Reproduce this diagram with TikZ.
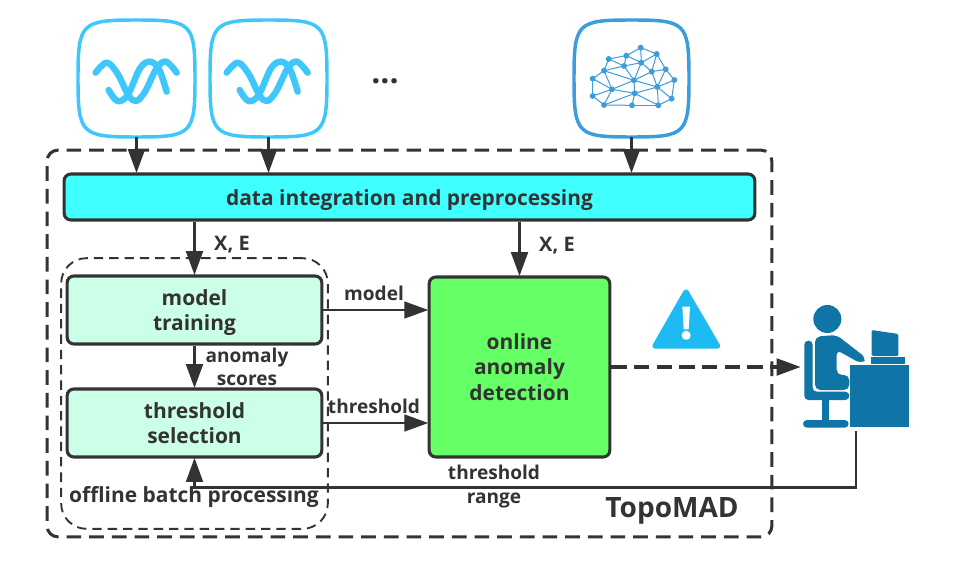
\documentclass[tikz,border=0pt]{standalone}
\usepackage{fontspec}
\setmainfont{Open Sans}
\usetikzlibrary{arrows.meta,calc}
\definecolor{ink}{HTML}{333333}
\definecolor{wave}{HTML}{3FC6FB}
\definecolor{net}{HTML}{3D9DDB}
\definecolor{prepfill}{HTML}{40FFFF}
\definecolor{mintfill}{HTML}{CCFFE8}
\definecolor{greenfill}{HTML}{66FF66}
\definecolor{warnblue}{HTML}{1DBBF2}
\definecolor{personblue}{HTML}{0F74A6}
\tikzset{
  x=0.75pt,y=-0.75pt,
  txt/.style={font=\bfseries\fontsize{15.7}{18.9}\selectfont,text=ink,align=center,inner sep=0pt},
  lbl/.style={font=\bfseries\fontsize{14.3}{17}\selectfont,text=ink,align=center,inner sep=0pt},
  procbox/.style={draw=ink,line width=2.3pt,rounded corners=5pt,inner sep=0pt},
  ghost/.style={inner sep=0pt,outer sep=0pt,minimum width=#1},
  flow/.style={draw=ink,line width=2.3pt,-{Triangle[length=18pt,width=12.5pt]},shorten >=-0.5pt},
  dashflow/.style={flow,line width=2.3pt,dash pattern=on 11.5pt off 5.5pt},
  strand/.style={draw=wave,line width=4.8pt,line cap=round,line join=round},
  frame/.style={line width=2.6pt,fill=white},
}
\newcommand{\squircle}[2]{%
  \draw[frame,draw=#2] (#1.north)
    .. controls ($(#1.north)!0.95!(#1.north east)$) and ($(#1.east)!0.95!(#1.north east)$) .. (#1.east)
    .. controls ($(#1.east)!0.95!(#1.south east)$) and ($(#1.south)!0.95!(#1.south east)$) .. (#1.south)
    .. controls ($(#1.south)!0.95!(#1.south west)$) and ($(#1.west)!0.95!(#1.south west)$) .. (#1.west)
    .. controls ($(#1.west)!0.95!(#1.north west)$) and ($(#1.north)!0.95!(#1.north west)$) .. (#1.north) -- cycle;}
\newcommand{\waveicon}[2]{%
  \begin{scope}[shift={(#1,#2)},x=0.25pt,y=-0.25pt]
    \draw[strand] plot[smooth,tension=0.6] coordinates {(107,188) (140,158) (172,190) (205,255) (228,273) (255,245) (290,175) (318,155) (350,188)};
    \draw[strand] plot[smooth,tension=0.6] coordinates {(146,240) (172,273) (203,255) (240,175) (270,155) (297,178) (320,245)};
  \end{scope}}
\begin{document}
\begin{tikzpicture}
\useasboundingbox (0,0) rectangle (956,577);
% source icons
\node[ghost=87.75pt,minimum height=87.75pt] (s1) at (136.5,78.5) {};
\node[ghost=87.75pt,minimum height=87.75pt] (s2) at (268.5,78.5) {};
\node[ghost=86.25pt,minimum height=87.75pt] (s3) at (631.5,78.5) {};
% main boxes
\node[procbox,fill=prepfill,minimum width=518pt,minimum height=34.5pt,txt] (prep) at (409.5,197) {\rule{0pt}{16.5pt}data integration and preprocessing};
\node[procbox,fill=mintfill,minimum width=191pt,minimum height=51pt,txt] (train) at (194.5,310) {\rule{0pt}{16pt}model\\training};
\node[procbox,fill=mintfill,minimum width=191pt,minimum height=51pt,txt] (thresh) at (194.5,423) {threshold\\selection};
\node[procbox,fill=greenfill,minimum width=135.5pt,minimum height=135pt,txt] (online) at (519.5,367) {online\\anomaly\\detection};
% containers
\node[draw=ink,line width=2.3pt,dash pattern=on 11pt off 6pt,rounded corners=8pt,minimum width=543.5pt,minimum height=290pt,inner sep=0pt] (topo) at (409.5,343.5) {};
\node[draw=ink,line width=1.4pt,dash pattern=on 7pt off 4.5pt,rounded corners=19pt,minimum width=200pt,minimum height=203pt,inner sep=0pt] (batch) at (194.5,393.5) {};
% squircles
\squircle{s1}{wave}
\squircle{s2}{wave}
\squircle{s3}{net}
\waveicon{60}{10}
\waveicon{191}{10}
% network icon
\begin{scope}[shift={(560,10)},x=0.25pt,y=-0.25pt]
  \foreach \n/\a/\b in {a/242/113,b/290/132,c/199/137,d/146/147,e/244/158,f/192/168,g/132/182,h/275/185,i/317/178,j/98/206,k/222/211,l/343/210,m/292/231,n/156/238,o/224/250,p/98/258,q/335/266,r/132/285,s/216/286,t/295/286}
    {\coordinate (N\n) at (\a,\b);}
  \foreach \u/\v in {a/b,a/c,a/e,b/e,b/h,b/i,c/d,c/e,c/f,d/f,d/g,f/g,f/e,e/h,e/k,f/k,g/k,g/j,g/n,j/n,j/p,p/n,p/r,n/r,n/k,n/o,r/o,k/o,k/h,k/m,h/i,h/m,i/l,i/m,l/m,l/q,m/q,m/t,q/t,o/m,o/s,o/t,r/s,s/t}
    {\draw[net,line width=0.75pt] (N\u) -- (N\v);}
  \foreach \n in {a,b,c,d,e,f,g,h,i,j,k,l,m,n,o,p,q,r,s,t}
    {\fill[net] (N\n) circle (2.2pt);}
\end{scope}
\node[font=\bfseries\fontsize{24}{26}\selectfont,text=ink,inner sep=0pt] (dots) at (385,81) {...};
% warning triangle
\fill[warnblue,draw=warnblue,line width=4pt,line join=round] (686,292) -- (717.5,346) -- (655,346) -- cycle;
\begin{scope}[shift={(640,280)},x=0.25pt,y=-0.25pt]
  \fill[white] (127,80) -- (150,80) -- (146,148) -- (131,148) -- cycle;
  \fill[white] (138.5,166) circle (3.4pt);
\end{scope}
% person at desk
\begin{scope}[shift={(640,280)},x=0.25pt,y=-0.25pt,personblue]
  \fill (562,117) circle (10.5pt);
  \fill[rounded corners=4pt] (525,170) -- (590,165) -- (680,235) -- (665,252) -- (590,210) -- (590,285) -- (628,285) -- (628,330) -- (525,330) -- cycle;
  \fill[rounded corners=3pt] (493,182) -- (518,182) -- (518,335) -- (628,335) -- (628,360) -- (493,360) -- cycle;
  \fill (546,360) rectangle (568,422);
  \fill[rounded corners=3pt] (489,420) rectangle (626,443);
  \fill[rounded corners=1pt] (695,150) -- (775,162) -- (775,228) -- (695,228) -- cycle;
  \fill (693,232) rectangle (796,252);
\end{scope}
\node[fill=personblue,inner sep=0pt,minimum width=44.25pt,minimum height=46.75pt] (desk) at (879.5,396) {};
\node[ghost=84pt,minimum height=92pt] (person) at (856,366.5) {};
\coordinate (deskfoot) at (856,431);
% connectors
\draw[flow] (s1.south) -- (s1.south |- prep.north);
\draw[flow] (s2.south) -- (s2.south |- prep.north);
\draw[flow] (s3.south) -- (s3.south |- prep.north);
\draw[flow] (prep.south -| train.north) -- (train.north);
\draw[flow] (prep.south -| online.north) -- (online.north);
\draw[flow] (train.south) -- (thresh.north);
\draw[flow,line width=2pt] (train.east) -- (train.east -| online.west);
\draw[flow,line width=2pt] (thresh.east) -- (thresh.east -| online.west);
\draw[dashflow] (online.east) -- (online.east -| person.west);
\draw[flow,line width=2pt] (deskfoot) |- (194.5,487.5) -- (thresh.south);
% labels
\node[lbl,font=\bfseries\fontsize{15}{17}\selectfont] (xe1) at (232,245) {X, E};
\node[lbl,font=\bfseries\fontsize{15}{17}\selectfont] (xe2) at (557,246) {X, E};
\node[lbl] (lmodel) at (374,293) {model};
\node[lbl] (lthresh) at (374,406) {threshold};
\node[lbl,font=\bfseries\fontsize{14.3}{17.2}\selectfont] (lscores) at (247,367) {anomaly\\scores};
\node[lbl,font=\bfseries\fontsize{15.7}{18}\selectfont] (loff) at (194,497) {offline batch processing};
\node[lbl,font=\bfseries\fontsize{14.3}{18}\selectfont] (lrange) at (494,487) {threshold\\range};
\node[font=\bfseries\fontsize{21}{24}\selectfont,text=ink,inner sep=0pt] (ltopo) at (672,511) {TopoMAD};
\end{tikzpicture}
\end{document}
